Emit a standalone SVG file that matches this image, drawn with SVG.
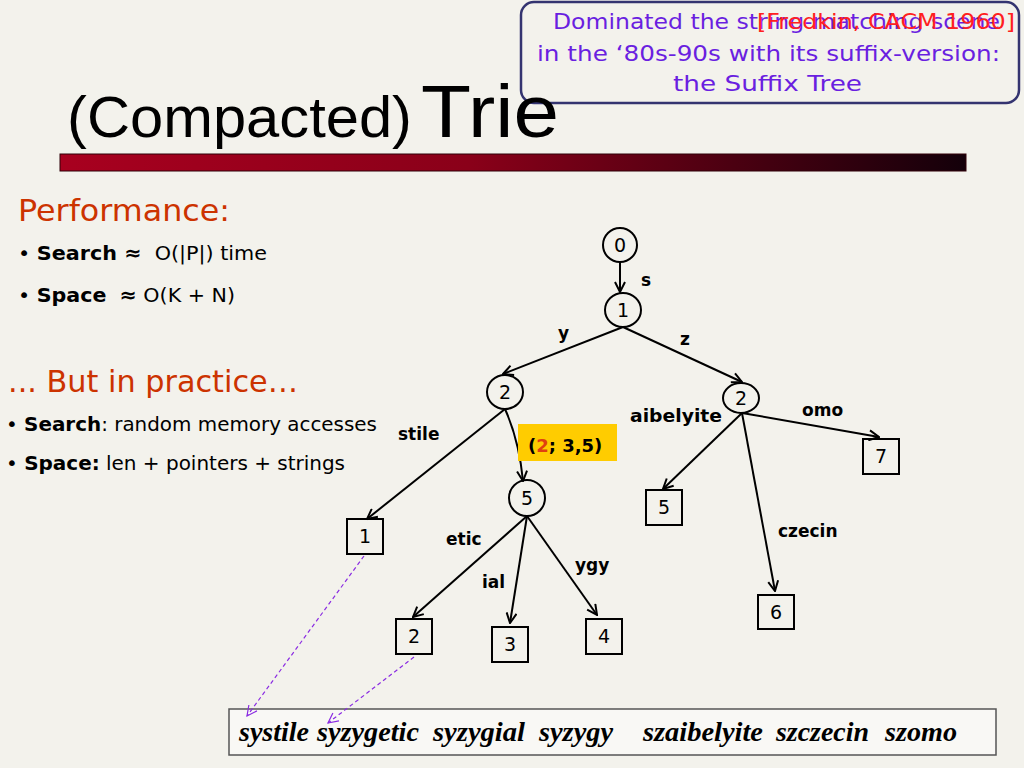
<svg xmlns="http://www.w3.org/2000/svg" width="1024" height="768" viewBox="0 0 1024 768">
<defs>
<linearGradient id="bar" x1="0" y1="0" x2="1" y2="0">
<stop offset="0" stop-color="#a8001f"/>
<stop offset="0.45" stop-color="#8a0019"/>
<stop offset="1" stop-color="#14000a"/>
</linearGradient>
<marker id="ah" viewBox="0 0 12 12" refX="11" refY="6" markerWidth="12" markerHeight="12" markerUnits="userSpaceOnUse" orient="auto">
<path d="M1,1 L11,6 L1,11" fill="none" stroke="#000" stroke-width="2"/>
</marker>
<marker id="ahp" viewBox="0 0 12 12" refX="11" refY="6" markerWidth="12" markerHeight="12" markerUnits="userSpaceOnUse" orient="auto">
<path d="M1,1 L11,6 L1,11" fill="none" stroke="#8a2be2" stroke-width="1.2"/>
</marker>
</defs>
<style>
.node{fill:none;stroke:#000;stroke-width:2}
.num{font-family:"DejaVu Sans",sans-serif;font-size:19px;fill:#000;text-anchor:middle}
.lbl{font-family:"DejaVu Sans",sans-serif;font-size:17px;font-weight:bold;fill:#000}
.edge{fill:none;stroke:#000;stroke-width:2;marker-end:url(#ah)}
.dash{fill:none;stroke:#8a2be2;stroke-width:1.2;stroke-dasharray:4,3;marker-end:url(#ahp)}
.body{font-family:"DejaVu Sans",sans-serif;font-size:20px;fill:#000}
.head{font-family:"DejaVu Sans",sans-serif;font-size:30px;fill:#cc3300}
.word{font-family:"Liberation Serif",serif;font-size:28px;font-style:italic;font-weight:bold;fill:#000}
.call{font-family:"DejaVu Sans",sans-serif;font-size:21px;fill:#6a1fe0}
</style>
<rect x="0" y="0" width="1024" height="768" fill="#f3f2ec"/>

<g id="callout">
<rect x="521" y="2" width="498" height="101" rx="13" fill="#f3f2ec" stroke="#343470" stroke-width="2.5"/>
<text class="call" x="553" y="29" textLength="447" lengthAdjust="spacingAndGlyphs">Dominated the string-matching scene</text>
<text x="757" y="29" textLength="258" lengthAdjust="spacingAndGlyphs" style="font-family:'DejaVu Sans',sans-serif;font-size:21px;fill:#ff2020">[Fredkin, CACM 1960]</text>
<text class="call" x="537" y="61" textLength="463" lengthAdjust="spacingAndGlyphs">in the ‘80s-90s with its suffix-version:</text>
<text class="call" x="673" y="91" textLength="189" lengthAdjust="spacingAndGlyphs">the Suffix Tree</text>
</g>

<g id="title">
<text x="67" y="137" textLength="345" lengthAdjust="spacingAndGlyphs" style="font-family:'Liberation Sans',sans-serif;font-size:57px;fill:#000">(Compacted)</text>
<text x="421" y="137" textLength="138" lengthAdjust="spacingAndGlyphs" style="font-family:'Liberation Sans',sans-serif;font-size:74px;fill:#000">Trie</text>
<rect x="60" y="154" width="906" height="17" fill="url(#bar)" stroke="#300008" stroke-width="1"/>
</g>

<g id="left-text">
<text class="head" x="18" y="221" textLength="212" lengthAdjust="spacingAndGlyphs">Performance:</text>
<text class="body" x="18" y="260" textLength="249" lengthAdjust="spacingAndGlyphs" xml:space="preserve">• <tspan font-weight="bold">Search ≈</tspan>  O(|P|) time</text>
<text class="body" x="18" y="302" textLength="217" lengthAdjust="spacingAndGlyphs" xml:space="preserve">• <tspan font-weight="bold">Space</tspan>  <tspan font-weight="bold">≈</tspan> O(K + N)</text>
<text class="head" x="8" y="392" textLength="290" lengthAdjust="spacingAndGlyphs">... But in practice…</text>
<text class="body" x="6" y="431" textLength="371" lengthAdjust="spacingAndGlyphs">• <tspan font-weight="bold">Search</tspan>: random memory accesses</text>
<text class="body" x="6" y="470" textLength="339" lengthAdjust="spacingAndGlyphs">• <tspan font-weight="bold">Space:</tspan> len + pointers + strings</text>
</g>

<g id="strings">
<rect x="229" y="709" width="767" height="46" fill="#f9f8f5" stroke="#555" stroke-width="1.5"/>
<text class="word" x="239" y="741" textLength="70" lengthAdjust="spacingAndGlyphs">systile</text>
<text class="word" x="317" y="741" textLength="102" lengthAdjust="spacingAndGlyphs">syzygetic</text>
<text class="word" x="433" y="741" textLength="92" lengthAdjust="spacingAndGlyphs">syzygial</text>
<text class="word" x="539" y="741" textLength="74" lengthAdjust="spacingAndGlyphs">syzygy</text>
<text class="word" x="643" y="741" textLength="120" lengthAdjust="spacingAndGlyphs">szaibelyite</text>
<text class="word" x="776" y="741" textLength="93" lengthAdjust="spacingAndGlyphs">szczecin</text>
<text class="word" x="885" y="741" textLength="72" lengthAdjust="spacingAndGlyphs">szomo</text>
</g>

<g id="connectors">
<line class="edge" x1="620" y1="262" x2="620" y2="292"/>
<line class="edge" x1="623" y1="327" x2="503" y2="374"/>
<line class="edge" x1="623" y1="327" x2="742" y2="382"/>
<line class="edge" x1="505" y1="409" x2="367" y2="519"/>
<path class="edge" d="M505,409 Q519,440 523,481"/>
<line class="edge" x1="527" y1="516" x2="413" y2="617"/>
<line class="edge" x1="527" y1="516" x2="510" y2="623"/>
<line class="edge" x1="527" y1="516" x2="597" y2="615"/>
<line class="edge" x1="742" y1="413" x2="663" y2="489"/>
<line class="edge" x1="742" y1="413" x2="775" y2="591"/>
<line class="edge" x1="742" y1="413" x2="879" y2="437"/>
<line class="dash" x1="364" y1="556" x2="247" y2="716"/>
<line class="dash" x1="414" y1="657" x2="328" y2="723"/>
</g>

<g id="label-box">
<rect x="518" y="424" width="99" height="37" fill="#ffcc00"/>
<text class="lbl" x="528" y="452" style="font-size:18px">(<tspan fill="#e04010">2</tspan>; 3,5)</text>
</g>

<g id="edge-labels">
<text class="lbl" x="641" y="286">s</text>
<text class="lbl" x="558" y="339">y</text>
<text class="lbl" x="680" y="345">z</text>
<text class="lbl" x="398" y="440">stile</text>
<text class="lbl" x="630" y="422" textLength="92" lengthAdjust="spacingAndGlyphs">aibelyite</text>
<text class="lbl" x="802" y="416">omo</text>
<text class="lbl" x="778" y="537">czecin</text>
<text class="lbl" x="446" y="545">etic</text>
<text class="lbl" x="482" y="588">ial</text>
<text class="lbl" x="575" y="571">ygy</text>
</g>

<g id="n0"><ellipse class="node" cx="620" cy="245" rx="17" ry="17"/><text class="num" x="620" y="252">0</text></g>
<g id="n1"><ellipse class="node" cx="623" cy="310" rx="18" ry="17"/><text class="num" x="623" y="317">1</text></g>
<g id="n2a"><ellipse class="node" cx="505" cy="392" rx="18" ry="17"/><text class="num" x="505" y="399">2</text></g>
<g id="n2b"><ellipse class="node" cx="741" cy="398" rx="18" ry="15"/><text class="num" x="741" y="405">2</text></g>
<g id="n5"><ellipse class="node" cx="527" cy="498" rx="18" ry="18"/><text class="num" x="527" y="505">5</text></g>
<g id="leaf1"><rect class="node" x="347" y="519" width="36" height="35"/><text class="num" x="365" y="543">1</text></g>
<g id="leaf2"><rect class="node" x="396" y="619" width="36" height="35"/><text class="num" x="414" y="643">2</text></g>
<g id="leaf3"><rect class="node" x="492" y="627" width="36" height="35"/><text class="num" x="510" y="651">3</text></g>
<g id="leaf4"><rect class="node" x="586" y="619" width="36" height="35"/><text class="num" x="604" y="643">4</text></g>
<g id="leaf5"><rect class="node" x="646" y="490" width="36" height="35"/><text class="num" x="664" y="514">5</text></g>
<g id="leaf6"><rect class="node" x="758" y="595" width="36" height="34"/><text class="num" x="776" y="619">6</text></g>
<g id="leaf7"><rect class="node" x="863" y="439" width="36" height="35"/><text class="num" x="881" y="463">7</text></g>
</svg>
